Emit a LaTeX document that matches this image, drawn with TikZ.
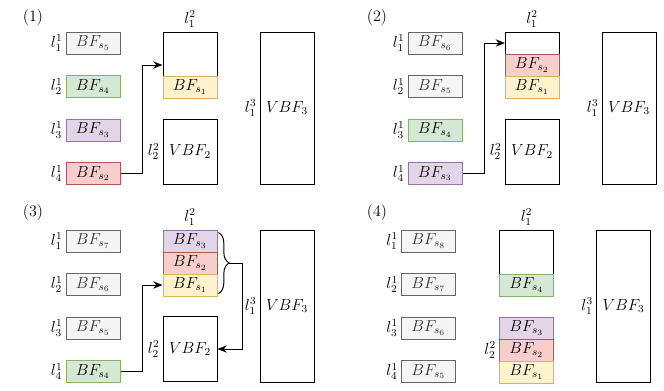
\documentclass[tikz,border=0pt]{standalone}
\usepackage{amsmath}
\usepackage{tikz}
\usetikzlibrary{positioning,arrows.meta,decorations.pathreplacing}
\definecolor{grayfill}{HTML}{F5F5F5}
\definecolor{grayline}{HTML}{666666}
\definecolor{graytext}{HTML}{333333}
\definecolor{greenfill}{HTML}{D5E8D4}
\definecolor{greenline}{HTML}{82B366}
\definecolor{purplefill}{HTML}{E1D5E7}
\definecolor{purpleline}{HTML}{9673A6}
\definecolor{redfill}{HTML}{F8CECC}
\definecolor{redline}{HTML}{B85450}
\definecolor{yellowfill}{HTML}{FFF2CC}
\definecolor{yellowline}{HTML}{D6B656}
\begin{document}
\begin{tikzpicture}[x=0.75pt,y=-0.75pt,font=\fontsize{12}{14}\selectfont,line width=0.75pt,
bf/.style n args={3}{draw=#1,fill=#2,text=#3,rectangle,minimum width=40.5pt,minimum height=16.5pt,inner sep=0pt},
gbf/.style={bf={grayline}{grayfill}{graytext}},
gnbf/.style={bf={greenline}{greenfill}{black}},
pbf/.style={bf={purpleline}{purplefill}{black}},
rbf/.style={bf={redline}{redfill}{black}},
ybf/.style={bf={yellowline}{yellowfill}{black}},
blk/.style={draw=black,rectangle,minimum width=40.5pt,minimum height=#1,inner sep=0pt},
lvl/.style={inner sep=1pt},
conn/.style={-{Stealth[length=7pt,width=5.5pt]}},
brc/.style={decorate,decoration={brace,amplitude=8pt}}]
\useasboundingbox (0,0) rectangle (664,390);
% (1)
\node (p1-n) at (33,18) {(1)};
\foreach \i/\s/\c in {1/5/gbf,2/4/gnbf,3/3/pbf,4/2/rbf} {
   \node[\c] (p1-b\i) at (93,{43.5*\i-0.5}) {$BF_{s_\s}$};
   \node[lvl,left=1pt of p1-b\i] (p1-l\i) {$l_\i^1$};
}
\node[blk=49.5pt] (p1-top) at (190,65) {};
\node[ybf] (p1-s1) at (190,87) {$BF_{s_1}$};
\node[lvl,above=2pt of p1-top] (p1-t1) {$l_1^2$};
\node[blk=48.75pt] (p1-v2) at (190,151.5) {$VBF_2$};
\node[lvl,left=1pt of p1-v2] (p1-t2) {$l_2^2$};
\node[blk=114pt] (p1-v3) at (287,108) {$VBF_3$};
\node[lvl,left=1pt of p1-v3] (p1-t3) {$l_1^3$};
\draw[conn] (p1-b4.east) -- ++(22,0) |- (p1-top.west);
% (2)
\node (p2-n) at (377,18) {(2)};
\foreach \i/\s/\c in {1/6/gbf,2/5/gbf,3/4/gnbf,4/3/pbf} {
   \node[\c] (p2-b\i) at (435,{43.5*\i-0.5}) {$BF_{s_\s}$};
   \node[lvl,left=1pt of p2-b\i] (p2-l\i) {$l_\i^1$};
}
\node[blk=49.5pt] (p2-top) at (532,65) {};
\node[rbf] (p2-s2) at (532,65) {$BF_{s_2}$};
\node[ybf] (p2-s1) at (532,87) {$BF_{s_1}$};
\coordinate (p2-slot) at (505,43);
\node[lvl,above=2pt of p2-top] (p2-t1) {$l_1^2$};
\node[blk=48.75pt] (p2-v2) at (532,151.5) {$VBF_2$};
\node[lvl,left=1pt of p2-v2] (p2-t2) {$l_2^2$};
\node[blk=114pt] (p2-v3) at (629,108) {$VBF_3$};
\node[lvl,left=1pt of p2-v3] (p2-t3) {$l_1^3$};
\draw[conn] (p2-b4.east) -- ++(22,0) |- (p2-slot);
% (3)
\node (p3-n) at (33,213) {(3)};
\foreach \i/\s/\c in {1/7/gbf,2/6/gbf,3/5/gbf,4/4/gnbf} {
   \node[\c] (p3-b\i) at (93,{198+43.5*\i-0.5}) {$BF_{s_\s}$};
   \node[lvl,left=1pt of p3-b\i] (p3-l\i) {$l_\i^1$};
}
\node[pbf] (p3-s3) at (190,241) {$BF_{s_3}$};
\node[rbf] (p3-s2) at (190,263) {$BF_{s_2}$};
\node[ybf] (p3-s1) at (190,285) {$BF_{s_1}$};
\node[lvl,above=2pt of p3-s3] (p3-t1) {$l_1^2$};
\node[blk=48.75pt] (p3-v2) at (190,349) {$VBF_2$};
\node[lvl,left=1pt of p3-v2] (p3-t2) {$l_2^2$};
\node[blk=114pt] (p3-v3) at (287,306) {$VBF_3$};
\node[lvl,left=1pt of p3-v3] (p3-t3) {$l_1^3$};
\draw[brc] ([shift={(1,3)}]p3-s3.north east) -- ([shift={(1,-3)}]p3-s1.south east);
\coordinate (p3-tip) at (229,263);
\draw[conn] (p3-tip) -- ++(13,0) |- (p3-v2.east);
\draw[conn] (p3-b4.east) -- ++(22,0) |- (p3-s1.west);
% (4)
\node (p4-n) at (377,213) {(4)};
\foreach \i/\s in {1/8,2/7,3/6,4/5} {
   \node[gbf] (p4-b\i) at (428.5,{198+43.5*\i-0.5}) {$BF_{s_\s}$};
   \node[lvl,left=1pt of p4-b\i] (p4-l\i) {$l_\i^1$};
}
\node[blk=49.5pt] (p4-top) at (526.5,263) {};
\node[gnbf] (p4-s4) at (526.5,285) {$BF_{s_4}$};
\node[lvl,above=2pt of p4-top] (p4-t1) {$l_1^2$};
\node[pbf] (p4-s3) at (526.5,328) {$BF_{s_3}$};
\node[rbf] (p4-s2) at (526.5,350) {$BF_{s_2}$};
\node[ybf] (p4-s1) at (526.5,372) {$BF_{s_1}$};
\node[lvl,left=1pt of p4-s2] (p4-t2) {$l_2^2$};
\node[blk=114pt] (p4-v3) at (623.5,306) {$VBF_3$};
\node[lvl,left=1pt of p4-v3] (p4-t3) {$l_1^3$};
\end{tikzpicture}
\end{document}
